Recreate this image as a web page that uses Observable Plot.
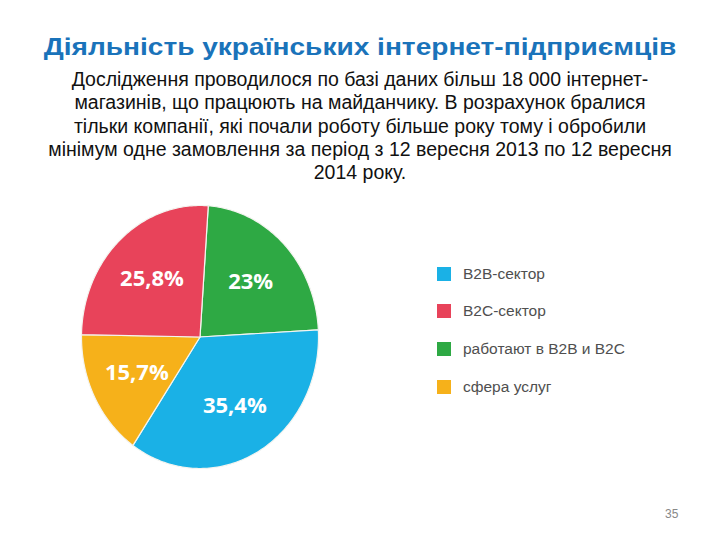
<!DOCTYPE html>
<html>
<head>
<meta charset="utf-8">
<script src="https://cdn.jsdelivr.net/npm/d3@7"></script>
<script src="https://cdn.jsdelivr.net/npm/@observablehq/plot@0.6"></script>
<style>
  html, body { margin: 0; padding: 0; background: #fff; }
  #page { position: relative; width: 720px; height: 540px; overflow: hidden; }
  #title { position: absolute; top: 33px; left: 0; width: 720px; text-align: center;
    font-family: "Liberation Sans", Arial, sans-serif; font-weight: bold; font-size: 24px;
    color: #1a73ba; transform: scaleX(1.17); transform-origin: 360px 0; }
  #subtitle { position: absolute; top: 68px; left: 0; width: 720px; text-align: center;
    font-family: "Liberation Sans", Arial, sans-serif; font-size: 19.5px; line-height: 23.3px;
    color: #111; }
  #chart { position: absolute; top: 195px; left: 0; }
  #legend { position: absolute; top: 266px; left: 437px;
    font-family: "Liberation Sans", Arial, sans-serif; font-size: 15.5px; color: #4f4f4f; }
  .item { display: flex; align-items: center; height: 15px; margin-bottom: 22.7px; }
  .sw { width: 14px; height: 14px; margin-right: 12px; flex: none; }
  #pagenum { position: absolute; left: 665px; top: 507px; font-family: "Liberation Sans", Arial, sans-serif;
    font-size: 12px; color: #888; }
</style>
</head>
<body>
<div id="page">
  <div id="title"></div>
  <div id="subtitle"></div>
  <div id="chart"></div>
  <div id="legend"></div>
  <div id="pagenum"></div>
</div>
<script>
// ---- data ----
const titleText = "Діяльність українських інтернет-підприємців";
const subtitleLines = [
  "Дослідження проводилося по базі даних більш 18 000 інтернет-",
  "магазинів, що працюють на майданчику. В розрахунок бралися",
  "тільки компанії, які почали роботу більше року тому і обробили",
  "мінімум одне замовлення за період з 12 вересня 2013 по 12 вересня",
  "2014 року."
];
// slices in clockwise order starting from the top
const sliceOrder = ["работают в B2B и B2C", "B2B-сектор", "сфера услуг", "B2C-сектор"];
const sliceValues = [23, 35.4, 15.7, 25.8];
// legend order
const legendCategories = ["B2B-сектор", "B2C-сектор", "работают в B2B и B2C", "сфера услуг"];
const legendColors = ["#1ab1e6", "#e8435a", "#2ea944", "#f6b11a"];
const pageNumber = "35";

// ---- text ----
document.getElementById("title").textContent = titleText;
document.getElementById("subtitle").innerHTML = subtitleLines.join("<br>");
document.getElementById("pagenum").textContent = pageNumber;

// ---- pie geometry from values ----
const startDeg = 4;
const total = d3.sum(sliceValues);
const polys = [];
const labels = [];
let acc = 0;
sliceOrder.forEach((cat, i) => {
  const a0 = (startDeg + acc / total * 360) * Math.PI / 180;
  acc += sliceValues[i];
  const a1 = (startDeg + acc / total * 360) * Math.PI / 180;
  polys.push({cat, x: 0, y: 0});
  const n = Math.max(2, Math.ceil((a1 - a0) / (Math.PI / 180)));
  for (let k = 0; k <= n; k++) {
    const a = a0 + (a1 - a0) * k / n;
    polys.push({cat, x: Math.sin(a), y: Math.cos(a)});
  }
  polys.push({cat, x: 0, y: 0});
  const am = (a0 + a1) / 2;
  labels.push({cat, x: 0.6 * Math.sin(am), y: 0.6 * Math.cos(am),
    text: String(sliceValues[i]).replace(".", ",") + "%"});
});

const chart = Plot.plot({
  width: 340,
  height: 290,
  marginLeft: 81,
  marginRight: 22,
  marginTop: 10,
  marginBottom: 17,
  x: {domain: [-1, 1], axis: null},
  y: {domain: [-1, 1], axis: null},
  color: {domain: legendCategories, range: legendColors},
  marks: [
    Plot.line(polys, {x: "x", y: "y", z: "cat", fill: "cat", stroke: "#f4f4f0", strokeWidth: 1.2, strokeLinejoin: "round"}),
    Plot.text(labels, {x: "x", y: "y", text: "text", fill: "white", fontSize: 22, fontWeight: "bold",
      fontFamily: "'Open Sans', sans-serif"})
  ]
});
document.getElementById("chart").appendChild(chart);

// ---- legend ----
const leg = document.getElementById("legend");
legendCategories.forEach((c, i) => {
  const row = document.createElement("div");
  row.className = "item";
  const sw = document.createElement("div");
  sw.className = "sw";
  sw.style.background = legendColors[i];
  const t = document.createElement("span");
  t.textContent = c;
  row.appendChild(sw);
  row.appendChild(t);
  leg.appendChild(row);
});
</script>
</body>
</html>
